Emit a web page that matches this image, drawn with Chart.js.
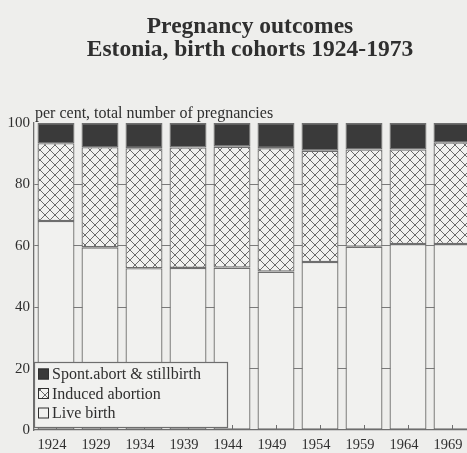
<!DOCTYPE html>
<html>
<head>
<meta charset="utf-8">
<script src="https://cdn.jsdelivr.net/npm/chart.js@4"></script>
<style>
  html, body { margin: 0; padding: 0; background: #eeeeec; overflow: hidden; }
  canvas { display: block; }
</style>
</head>
<body>
<canvas id="c" width="500" height="453"></canvas>
<script>
const cohorts = ['1924', '1929', '1934', '1939', '1944', '1949', '1954', '1959', '1964', '1969'];
const liveBirth = [68.1, 59.5, 52.7, 52.8, 52.9, 51.6, 54.7, 59.7, 60.6, 60.6];
const inducedAbortion = [25.3, 32.6, 39.1, 39.2, 39.4, 40.2, 36.3, 31.7, 30.8, 33.1];
const spontAbort = [6.6, 7.9, 8.2, 8.0, 7.7, 8.2, 9.0, 8.6, 8.6, 6.3];
const yTicks = [0, 20, 40, 60, 80, 100];
const titleLines = ['Pregnancy outcomes', 'Estonia, birth cohorts 1924-1973'];
const axisCaption = 'per cent, total number of pregnancies';

const canvas = document.getElementById('c');
const ctx = canvas.getContext('2d');
const ink = '#2f2f2f';
const lineGrey = '#6e6e6e';
const paper = '#f1f1ef';
const serif = 'Liberation Serif';

// cross-hatch fill for induced abortion
function makeHatch() {
  const c = document.createElement('canvas');
  c.width = 10; c.height = 10;
  const g = c.getContext('2d');
  g.fillStyle = paper;
  g.fillRect(0, 0, 10, 10);
  g.strokeStyle = '#6a6a6a';
  g.lineWidth = 1;
  g.beginPath();
  g.moveTo(-1, -1); g.lineTo(11, 11);
  g.moveTo(11, -1); g.lineTo(-1, 11);
  g.moveTo(-1, 9); g.lineTo(1, 11);
  g.moveTo(9, -1); g.lineTo(11, 1);
  g.moveTo(-1, 1); g.lineTo(1, -1);
  g.moveTo(9, 11); g.lineTo(11, 9);
  g.stroke();
  return ctx.createPattern(c, 'repeat');
}
const hatch = makeHatch();

const captionPlugin = {
  id: 'caption',
  afterDraw(chart) {
    const c = chart.ctx, a = chart.chartArea;
    c.save();
    c.fillStyle = ink;
    c.font = '16px "' + serif + '"';
    c.textBaseline = 'bottom';
    c.fillText(axisCaption, a.left + 1, a.top - 1);
    c.restore();
  }
};

// small tick marks pointing up from the x axis
const innerTicks = {
  id: 'innerTicks',
  afterDatasetsDraw(chart) {
    const c = chart.ctx, x = chart.scales.x, a = chart.chartArea;
    c.save();
    c.strokeStyle = lineGrey;
    c.lineWidth = 1;
    x.ticks.forEach((t, i) => {
      const px = Math.round(x.getPixelForTick(i)) + 0.5;
      c.beginPath();
      c.moveTo(px, a.bottom);
      c.lineTo(px, a.bottom - 5);
      c.stroke();
    });
    c.restore();
  }
};

// legend box drawn inside the plot, lower left
const boxLegend = {
  id: 'boxLegend',
  afterDraw(chart) {
    const c = chart.ctx, a = chart.chartArea;
    const left = a.left, top = a.bottom - 68, w = 193, h = 65;
    c.save();
    c.fillStyle = paper;
    c.fillRect(left, top, w, h);
    c.strokeStyle = lineGrey;
    c.lineWidth = 1.2;
    c.strokeRect(left + 0.5, top + 0.5, w, h);
    const items = chart.data.datasets.slice().reverse();
    c.font = '16px "' + serif + '"';
    c.textBaseline = 'middle';
    items.forEach((ds, i) => {
      const cy = top + 12 + i * 19.5;
      const mx = left + 4, my = cy - 5.5, s = 11;
      c.fillStyle = ds.backgroundColor;
      c.fillRect(mx, my, s, s);
      c.strokeStyle = ink;
      c.lineWidth = 1;
      c.strokeRect(mx + 0.5, my + 0.5, s - 1, s - 1);
      c.fillStyle = ink;
      c.fillText(ds.label, mx + s + 3, cy + 1);
    });
    c.restore();
  }
};

new Chart(canvas, {
  type: 'bar',
  data: {
    labels: cohorts,
    datasets: [
      { label: 'Live birth', data: liveBirth, backgroundColor: paper },
      { label: 'Induced abortion', data: inducedAbortion, backgroundColor: hatch },
      { label: 'Spont.abort & stillbirth', data: spontAbort, backgroundColor: '#3a3a3a' }
    ].map(d => Object.assign(d, {
      borderColor: lineGrey,
      borderWidth: 1.3,
      borderSkipped: false,
      categoryPercentage: 1,
      barPercentage: 0.84
    }))
  },
  options: {
    responsive: false,
    animation: false,
    devicePixelRatio: 1,
    plugins: {
      legend: { display: false },
      tooltip: { enabled: false },
      title: {
        display: true,
        text: titleLines,
        color: ink,
        font: { family: serif, size: 23.5, weight: 'bold', lineHeight: 1.0 },
        padding: { top: 15, bottom: 61 }
      }
    },
    scales: {
      x: {
        stacked: true,
        afterFit: s => { s.height = 23; },
        grid: { display: false, drawTicks: false },
        border: { display: true, color: lineGrey, width: 1.3 },
        ticks: { color: ink, font: { family: serif, size: 14.5 }, padding: 6, maxRotation: 0, labelOffset: -4 }
      },
      y: {
        stacked: true,
        min: 0,
        max: 100,
        afterBuildTicks: s => { s.ticks = yTicks.map(v => ({ value: v })); },
        afterFit: s => { s.width = 34; },
        grid: {
          drawTicks: false,
          color: c => (c.tick && (c.tick.value === 100 || c.tick.value === 0)) ? 'transparent' : '#7a7a7a',
          lineWidth: 1
        },
        border: { display: true, color: lineGrey, width: 1.3 },
        ticks: { color: ink, font: { family: serif, size: 15 }, padding: 4 }
      },
      // empty right-hand axis keeps room on the right so the title stays centred on the page
      yRight: {
        position: 'right',
        display: true,
        afterFit: s => { s.width = 26; },
        grid: { display: false, drawTicks: false },
        border: { display: false },
        ticks: { display: false }
      }
    }
  },
  plugins: [captionPlugin, innerTicks, boxLegend]
});
</script>
</body>
</html>
